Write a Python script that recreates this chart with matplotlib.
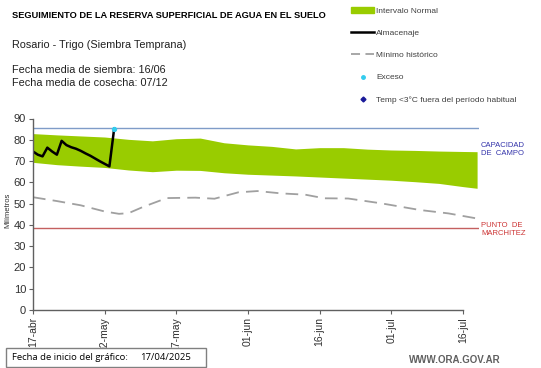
import numpy as np
import matplotlib
matplotlib.use("Agg")
import matplotlib.pyplot as plt
from matplotlib.lines import Line2D
from matplotlib.patches import Patch, Rectangle

plt.rcParams['font.family'] = ['Liberation Sans', 'DejaVu Sans']

# days since 17-abr
band_days = [0, 5, 10, 15, 20, 25, 30, 35, 40, 45, 50, 55, 60, 65, 70, 75, 80, 85, 90, 93]
band_upper = [82.9, 82.3, 81.8, 81.3, 80.2, 79.5, 80.5, 80.8, 78.6, 77.6, 76.9, 75.7,
              76.3, 76.3, 75.6, 75.2, 75.0, 74.7, 74.5, 74.4]
band_lower = [69.4, 68.3, 67.6, 67.0, 65.8, 65.0, 65.7, 65.6, 64.5, 63.8, 63.4, 63.0,
              62.5, 62.0, 61.5, 61.0, 60.3, 59.5, 58.0, 57.2]

min_days = [0, 5, 10, 15, 18, 20, 23, 28, 34, 38, 43, 47, 52, 57, 61, 66, 73, 81, 87, 93]
min_hist = [53.0, 51.2, 49.2, 46.3, 45.2, 45.5, 48.4, 52.6, 52.8, 52.3, 55.3, 55.9,
            54.8, 54.2, 52.5, 52.4, 50.1, 47.0, 45.4, 43.0]

alm_days = list(range(18))
almacenaje = [74.5, 73.0, 72.2, 76.3, 74.5, 73.0, 79.5, 77.5, 76.5, 75.8, 74.8, 73.6,
              72.5, 71.2, 69.9, 68.7, 67.5, 85.3]

exceso_days = [17]
exceso_vals = [85.3]

cap_campo = 85.4
punto_marchitez = 38.7

tick_days = [0, 15, 30, 45, 60, 75, 90]
tick_labels = ['17-abr', '02-may', '17-may', '01-jun', '16-jun', '01-jul', '16-jul']

fig = plt.figure(figsize=(5.41, 3.68), dpi=100)
W, H = 541, 368
ax = fig.add_axes([33 / W, 1 - 310 / H, (479 - 33) / W, (310 - 118.5) / H])

ax.fill_between(band_days, band_lower, band_upper, color='#99cc00', lw=0)
ax.axhline(cap_campo, color='#7f9cc8', lw=1)
ax.axhline(punto_marchitez, color='#c46060', lw=1)
ax.plot(min_days, min_hist, color='#a0a0a0', lw=1.3, dashes=(7, 4))
ax.plot(alm_days, almacenaje, color='black', lw=1.8)
ax.scatter(exceso_days, exceso_vals, color='#33ccee', s=8, zorder=5)

ax.set_xlim(0, 93.4)
ax.set_ylim(0, 90)
ax.set_yticks(range(0, 91, 10))
ax.set_xticks(tick_days)
ax.set_xticklabels(tick_labels, rotation=90)
ax.spines['top'].set_visible(False)
ax.spines['right'].set_visible(False)
ax.spines['bottom'].set_bounds(0, 90)
for s in ['left', 'bottom']:
    ax.spines[s].set_color('#606060')
    ax.spines[s].set_linewidth(1)
ax.tick_params(axis='both', labelsize=7.5, length=3, color='#606060', labelcolor='#303030', pad=2)
ax.tick_params(axis='y', labelsize=8)

fig.text(8 / W, 1 - 210 / H, 'Milímetros', rotation=90, fontsize=5.5, color='#303030',
         ha='center', va='center')

fig.text(481 / W, 1 - 149 / H, 'CAPACIDAD\nDE  CAMPO', fontsize=5.5, color='#3333aa',
         ha='left', va='center', linespacing=1.2)
fig.text(481 / W, 1 - 229 / H, 'PUNTO  DE\nMARCHITEZ', fontsize=5.5, color='#cc3333',
         ha='left', va='center', linespacing=1.2)

fig.text(12 / W, 1 - 15 / H, 'SEGUIMIENTO DE LA RESERVA SUPERFICIAL DE AGUA EN EL SUELO',
         fontsize=6.7, fontweight='bold', ha='left', va='center')
fig.text(12 / W, 1 - 45 / H, 'Rosario - Trigo (Siembra Temprana)', fontsize=7.8,
         ha='left', va='center', color='#202020')
fig.text(12 / W, 1 - 70 / H, 'Fecha media de siembra: 16/06', fontsize=7.8,
         ha='left', va='center', color='#202020')
fig.text(12 / W, 1 - 83 / H, 'Fecha media de cosecha: 07/12', fontsize=7.8,
         ha='left', va='center', color='#202020')

handles = [
    Patch(color='#99cc00'),
    Line2D([], [], color='black', lw=1.8),
    Line2D([], [], color='#a0a0a0', lw=1.3, dashes=(5, 3)),
    Line2D([], [], color='#33ccee', lw=0, marker='o', markersize=2.5),
    Line2D([], [], color='#1a1a99', lw=0, marker='D', markersize=2.5),
]
labels = ['Intervalo Normal', 'Almacenaje', 'Mínimo histórico', 'Exceso',
          'Temp <3°C fuera del período habitual']
leg = fig.legend(handles, labels, loc='upper left', bbox_to_anchor=(348 / W, 1 - 4 / H),
                 frameon=False, fontsize=6, handlelength=2.7, handleheight=0.6,
                 handletextpad=0.3, labelspacing=1.75, borderaxespad=0)
for t in leg.get_texts():
    t.set_color('#404040')

fig.patches.append(Rectangle((6 / W, 1 - 367 / H), 200 / W, 19 / H, transform=fig.transFigure,
                             facecolor='white', edgecolor='#808080', lw=1, zorder=10))
fig.text(12 / W, 1 - 358 / H, 'Fecha de inicio del gráfico:', fontsize=6.8,
         ha='left', va='center', family=['Open Sans', 'DejaVu Sans'], zorder=11)
fig.text(140 / W, 1 - 358 / H, '17/04/2025', fontsize=6.8,
         ha='left', va='center', family=['Open Sans', 'DejaVu Sans'], zorder=11)
fig.text(501 / W, 1 - 360 / H, 'WWW.ORA.GOV.AR', fontsize=7, color='#606060',
         fontweight='bold', ha='right', va='center')

fig.savefig('out.png', dpi=100)
